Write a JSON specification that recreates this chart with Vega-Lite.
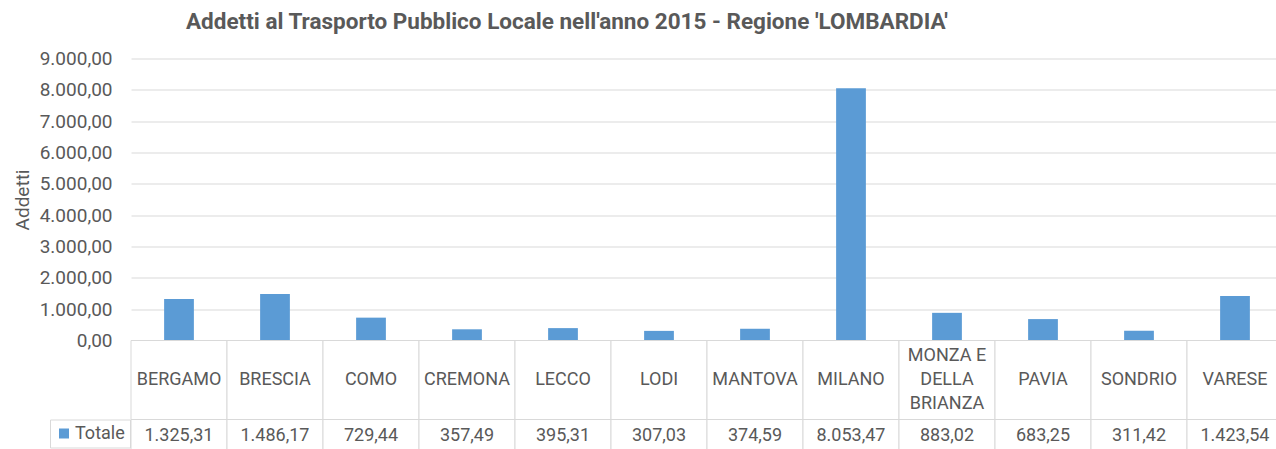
{
  "$schema": "https://vega.github.io/schema/vega-lite/v6.json",
  "autosize": {"type": "pad"},
  "padding": {"left": 13, "top": 10.5, "right": 0, "bottom": 0},
  "bounds": "flush",
  "spacing": 0,
  "background": "white",
  "title": {
    "text": "Addetti al Trasporto Pubblico Locale nell'anno 2015 - Regione 'LOMBARDIA'",
    "anchor": "start",
    "frame": "group",
    "dx": 55,
    "offset": -2,
    "baseline": "alphabetic",
    "font": "Roboto",
    "fontSize": 22.5,
    "fontWeight": "bold",
    "color": "#595959"
  },
  "datasets": {
    "dati": [
      {"provincia": "BERGAMO", "etichetta": "BERGAMO", "addetti": 1325.31, "serie": "Totale"},
      {"provincia": "BRESCIA", "etichetta": "BRESCIA", "addetti": 1486.17, "serie": "Totale"},
      {"provincia": "COMO", "etichetta": "COMO", "addetti": 729.44, "serie": "Totale"},
      {"provincia": "CREMONA", "etichetta": "CREMONA", "addetti": 357.49, "serie": "Totale"},
      {"provincia": "LECCO", "etichetta": "LECCO", "addetti": 395.31, "serie": "Totale"},
      {"provincia": "LODI", "etichetta": "LODI", "addetti": 307.03, "serie": "Totale"},
      {"provincia": "MANTOVA", "etichetta": "MANTOVA", "addetti": 374.59, "serie": "Totale"},
      {"provincia": "MILANO", "etichetta": "MILANO", "addetti": 8053.47, "serie": "Totale"},
      {"provincia": "MONZA E DELLA BRIANZA", "etichetta": "MONZA E\nDELLA\nBRIANZA", "addetti": 883.02, "serie": "Totale"},
      {"provincia": "PAVIA", "etichetta": "PAVIA", "addetti": 683.25, "serie": "Totale"},
      {"provincia": "SONDRIO", "etichetta": "SONDRIO", "addetti": 311.42, "serie": "Totale"},
      {"provincia": "VARESE", "etichetta": "VARESE", "addetti": 1423.54, "serie": "Totale"}
    ]
  },
  "vconcat": [
    {
      "width": 1152,
      "height": 282,
      "data": {"name": "dati"},
      "mark": {"type": "bar", "width": {"band": 0.31}},
      "encoding": {
        "x": {"field": "provincia", "type": "nominal", "sort": null, "axis": null,
              "scale": {"paddingInner": 0, "paddingOuter": 0}},
        "y": {"field": "addetti", "type": "quantitative",
              "scale": {"domain": [0, 9000], "nice": false},
              "axis": {"title": "Addetti", "values": [0,1000,2000,3000,4000,5000,6000,7000,8000,9000],
                       "format": ",.2f", "domain": false, "ticks": false, "tickSize": 0,
                       "labelPadding": 19, "labelFont": "Roboto", "labelFontSize": 19, "labelColor": "#595959",
                       "grid": true, "gridColor": "#d9d9d9", "gridWidth": 1,
                       "titleFont": "Roboto", "titleFontSize": 19, "titleFontWeight": "normal",
                       "titleColor": "#595959", "titlePadding": 7}},
        "color": {"field": "serie", "type": "nominal",
                  "scale": {"range": ["#5b9bd5"]},
                  "legend": {"title": null, "orient": "none", "legendX": -81, "legendY": 361,
                             "symbolType": "square", "symbolSize": 100, "symbolStrokeWidth": 0,
                             "labelFont": "Roboto", "labelFontSize": 18, "labelColor": "#595959",
                             "labelOffset": 2, "strokeColor": "#d9d9d9", "padding": 5}}
      }
    },
    {
      "width": 1152,
      "height": 79,
      "data": {"name": "dati"},
      "layer": [
        {
          "mark": {"type": "rect", "fill": "white", "stroke": "#d9d9d9", "strokeWidth": 1},
          "encoding": {
            "x": {"field": "provincia", "type": "nominal", "sort": null, "axis": null,
                  "scale": {"paddingInner": 0, "paddingOuter": 0}}
          }
        },
        {
          "transform": [{"filter": "datum.provincia != 'MONZA E DELLA BRIANZA'"}],
          "mark": {"type": "text", "font": "Roboto", "fontSize": 18, "color": "#595959",
                   "baseline": "middle"},
          "encoding": {
            "x": {"field": "provincia", "type": "nominal", "sort": null, "axis": null,
                  "scale": {"paddingInner": 0, "paddingOuter": 0}},
            "text": {"field": "etichetta"}
          }
        },
        {
          "transform": [{"filter": "datum.provincia == 'MONZA E DELLA BRIANZA'"}],
          "mark": {"type": "text", "font": "Roboto", "fontSize": 18, "color": "#595959",
                   "baseline": "middle", "lineBreak": "\n", "lineHeight": 24, "dy": -24},
          "encoding": {
            "x": {"field": "provincia", "type": "nominal", "sort": null, "axis": null,
                  "scale": {"paddingInner": 0, "paddingOuter": 0}},
            "text": {"field": "etichetta"}
          }
        }
      ]
    },
    {
      "width": 1152,
      "height": 31,
      "data": {"name": "dati"},
      "layer": [
        {
          "mark": {"type": "rect", "fill": "white", "stroke": "#d9d9d9", "strokeWidth": 1},
          "encoding": {
            "x": {"field": "provincia", "type": "nominal", "sort": null, "axis": null,
                  "scale": {"paddingInner": 0, "paddingOuter": 0}}
          }
        },
        {
          "mark": {"type": "text", "font": "Roboto", "fontSize": 18, "color": "#595959",
                   "baseline": "middle", "dy": 1},
          "encoding": {
            "x": {"field": "provincia", "type": "nominal", "sort": null, "axis": null,
                  "scale": {"paddingInner": 0, "paddingOuter": 0}},
            "text": {"field": "addetti", "type": "quantitative", "format": ",.2f"}
          }
        }
      ]
    }
  ],
  "config": {
    "locale": {"number": {"decimal": ",", "thousands": ".", "grouping": [3], "currency": ["€", ""]}},
    "view": {"stroke": null},
    "font": "Roboto"
  }
}
